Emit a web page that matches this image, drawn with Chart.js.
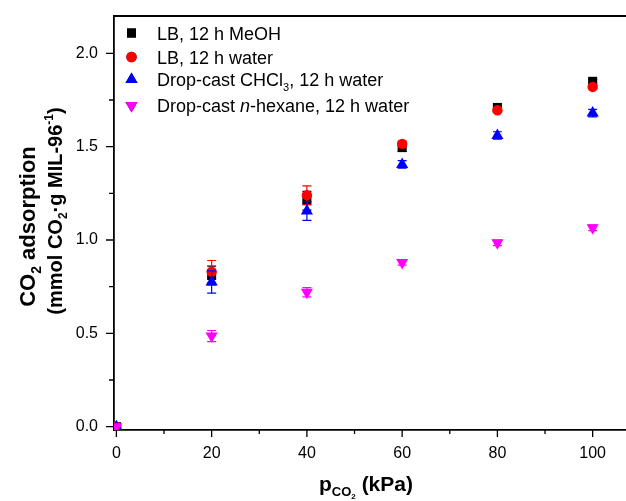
<!DOCTYPE html>
<html>
<head>
<meta charset="utf-8">
<script src="https://cdn.jsdelivr.net/npm/chart.js@4.4.1/dist/chart.umd.min.js"></script>
<style>
  html, body { margin: 0; padding: 0; background: #fff; }
  #wrap { position: relative; width: 626px; height: 501px; }
</style>
</head>
<body>
<div id="wrap"><canvas id="co2Chart"></canvas></div>
<script>
'use strict';

// ── Data ───────────────────────────────────────────────────
const pressure      = [0, 20, 40, 60, 80, 100];          // kPa
const lbMeoh        = [0, 0.81, 1.21, 1.495, 1.71, 1.85];
const lbMeohErr     = [0, 0.05, 0.05, 0.02, 0.01, 0.01];
const lbWater       = [0, 0.83, 1.24, 1.515, 1.695, 1.82];
const lbWaterErr    = [0, 0.06, 0.05, 0.015, 0.01, 0.01];
const chcl3Water    = [0, 0.775, 1.155, 1.405, 1.56, 1.68];
const chcl3WaterErr = [0, 0.06, 0.05, 0.02, 0.02, 0.02];
const hexaneWater   = [0, 0.485, 0.72, 0.88, 0.985, 1.065];
const hexaneErr     = [0, 0.03, 0.025, 0.015, 0.015, 0.015];

const xTicks      = [0, 20, 40, 60, 80, 100];
const xMinorTicks = [10, 30, 50, 70, 90];
const yTicks      = [0, 0.5, 1.0, 1.5, 2.0];
const yMinorTicks = [0.25, 0.75, 1.25, 1.75];

const FONT = "'Liberation Sans', Arial, sans-serif";

function pts(ys) {
    return pressure.map((x, i) => ({ x, y: ys[i] }));
}

// no extra label padding: the plot box is pinned by layout padding
function noPad(s) {
    s.paddingTop = 0; s.paddingBottom = 0;
    s.paddingLeft = 0; s.paddingRight = 0;
}

// ── Error bars, drawn right after each dataset ─────────────
const errorBars = {
    id: 'errorBars',
    afterDatasetDraw(chart, args) {
        const ds = chart.data.datasets[args.index];
        if (!ds.errors) return;
        const yScale = chart.scales.y;
        const ctx = chart.ctx;
        ctx.save();
        ctx.strokeStyle = ds.borderColor;
        ctx.lineWidth = 1.2;
        args.meta.data.forEach((el, i) => {
            const e = ds.errors[i];
            if (!e) return;
            const v = ds.data[i].y;
            const top = yScale.getPixelForValue(v + e);
            const bot = yScale.getPixelForValue(v - e);
            ctx.beginPath();
            ctx.moveTo(el.x, top); ctx.lineTo(el.x, bot);
            ctx.moveTo(el.x - 4.5, top); ctx.lineTo(el.x + 4.5, top);
            ctx.moveTo(el.x - 4.5, bot); ctx.lineTo(el.x + 4.5, bot);
            ctx.stroke();
        });
        ctx.restore();
    }
};

// draw a run of text pieces (size, bold, italic, dy) starting at x
function drawRuns(ctx, runs, x, y, align) {
    const fontOf = r => `${r.italic ? 'italic ' : ''}${r.bold ? 'bold ' : ''}${r.size}px ${FONT}`;
    let total = 0;
    runs.forEach(r => { ctx.font = fontOf(r); total += ctx.measureText(r.t).width; });
    let cx = align === 'center' ? x - total / 2 : x;
    ctx.textAlign = 'left';
    ctx.textBaseline = 'alphabetic';
    runs.forEach(r => {
        ctx.font = fontOf(r);
        ctx.fillText(r.t, cx, y + (r.dy || 0));
        cx += ctx.measureText(r.t).width;
    });
}

// ── Frame, ticks, titles and legend ────────────────────────
const decorations = {
    id: 'decorations',
    afterDraw(chart) {
        const ctx = chart.ctx;
        const { left, right, top, bottom } = chart.chartArea;
        const xs = chart.scales.x, ys = chart.scales.y;
        ctx.save();
        ctx.strokeStyle = '#000';
        ctx.fillStyle = '#000';

        // top frame line
        ctx.lineWidth = 1.8;
        ctx.beginPath();
        ctx.moveTo(left - 1, top); ctx.lineTo(right, top);
        ctx.stroke();

        // tick marks (outward)
        ctx.lineWidth = 1.3;
        ctx.beginPath();
        xTicks.forEach(v => { const p = xs.getPixelForValue(v); ctx.moveTo(p, bottom); ctx.lineTo(p, bottom + 7); });
        xMinorTicks.forEach(v => { const p = xs.getPixelForValue(v); ctx.moveTo(p, bottom); ctx.lineTo(p, bottom + 4); });
        yTicks.forEach(v => { const p = ys.getPixelForValue(v); ctx.moveTo(left, p); ctx.lineTo(left - 8, p); });
        yMinorTicks.forEach(v => { const p = ys.getPixelForValue(v); ctx.moveTo(left, p); ctx.lineTo(left - 5, p); });
        ctx.stroke();

        // x title: p_CO2 (kPa)
        drawRuns(ctx, [
            { t: 'p', size: 21, bold: true },
            { t: 'CO', size: 13, bold: true, dy: 5 },
            { t: '2', size: 8, bold: true, dy: 8 },
            { t: ' (kPa)', size: 21, bold: true }
        ], 366, 491, 'center');

        // y title, two rotated lines
        ctx.save();
        ctx.translate(35, 226.5);
        ctx.rotate(-Math.PI / 2);
        drawRuns(ctx, [
            { t: 'CO', size: 22, bold: true },
            { t: '2', size: 14, bold: true, dy: 6 },
            { t: ' adsorption', size: 22, bold: true }
        ], 0, 0, 'center');
        ctx.restore();

        ctx.save();
        ctx.translate(62, 211);
        ctx.rotate(-Math.PI / 2);
        drawRuns(ctx, [
            { t: '(mmol CO', size: 20, bold: true },
            { t: '2', size: 12, bold: true, dy: 5 },
            { t: '\u00B7g MIL-96', size: 20, bold: true },
            { t: '-1', size: 12, bold: true, dy: -9 },
            { t: ')', size: 20, bold: true }
        ], 0, 0, 'center');
        ctx.restore();

        // legend
        const rows = [
            { ds: 0, y: 33, runs: [{ t: 'LB, 12 h MeOH', size: 18 }] },
            { ds: 1, y: 57, runs: [{ t: 'LB, 12 h water', size: 18 }] },
            { ds: 2, y: 79.5, runs: [
                { t: 'Drop-cast CHCl', size: 18 },
                { t: '3', size: 11, dy: 5 },
                { t: ', 12 h water', size: 18 }] },
            { ds: 3, y: 105.5, runs: [
                { t: 'Drop-cast ', size: 18 },
                { t: 'n', size: 18, italic: true },
                { t: '-hexane, 12 h water', size: 18 }] }
        ];
        rows.forEach(r => {
            const ds = chart.data.datasets[r.ds];
            Chart.helpers.drawPoint(ctx, {
                pointStyle: ds.pointStyle,
                radius: ds.pointRadius,
                rotation: ds.pointRotation || 0,
                borderWidth: 0
            }, 131.5, r.y);
            ctx.fillStyle = ds.backgroundColor;
            ctx.fill();
            ctx.fillStyle = '#000';
            drawRuns(ctx, r.runs, 157, r.y + 6.5, 'left');
        });

        ctx.restore();
    }
};

function series(label, ys, errs, color, style, radius, rotation, order) {
    return {
        label,
        data: pts(ys),
        errors: errs,
        borderColor: color,
        backgroundColor: color,
        pointBackgroundColor: color,
        pointBorderColor: color,
        pointBorderWidth: 0,
        pointStyle: style,
        pointRadius: radius,
        pointRotation: rotation,
        showLine: false,
        order
    };
}

new Chart(document.getElementById('co2Chart').getContext('2d'), {
    type: 'scatter',
    data: {
        datasets: [
            series('LB, 12 h MeOH', lbMeoh, lbMeohErr, '#000000', 'rect', 6.4, 0, 4),
            series('LB, 12 h water', lbWater, lbWaterErr, '#ff0000', 'circle', 5.2, 0, 3),
            series('Drop-cast CHCl3, 12 h water', chcl3Water, chcl3WaterErr, '#0000ff', 'triangle', 7, 0, 2),
            series('Drop-cast n-hexane, 12 h water', hexaneWater, hexaneErr, '#ff00ff', 'triangle', 7, 180, 1)
        ]
    },
    options: {
        responsive: true,
        maintainAspectRatio: false,
        animation: false,
        layout: { autoPadding: false, padding: { top: 16, right: 0, left: 0, bottom: 0 } },
        plugins: {
            legend: { display: false },
            tooltip: { enabled: false }
        },
        scales: {
            x: {
                type: 'linear',
                min: -0.5,
                max: 107,
                afterBuildTicks: s => { s.ticks = xTicks.map(v => ({ value: v })); },
                afterFit: s => { s.height = 71; noPad(s); },
                grid: { display: false },
                border: { display: true, color: '#000', width: 1.8 },
                ticks: {
                    color: '#000',
                    font: { family: FONT, size: 16 },
                    padding: 6,
                    maxRotation: 0,
                    callback: v => String(v)
                }
            },
            y: {
                type: 'linear',
                min: -0.018,
                max: 2.2,
                afterBuildTicks: s => { s.ticks = yTicks.map(v => ({ value: v })); },
                afterFit: s => { s.width = 114; noPad(s); },
                grid: { display: false },
                border: { display: true, color: '#000', width: 1.8 },
                ticks: {
                    color: '#000',
                    font: { family: FONT, size: 16 },
                    padding: 8,
                    callback: v => Number(v).toFixed(1)
                }
            }
        }
    },
    plugins: [errorBars, decorations]
});
</script>
</body>
</html>
